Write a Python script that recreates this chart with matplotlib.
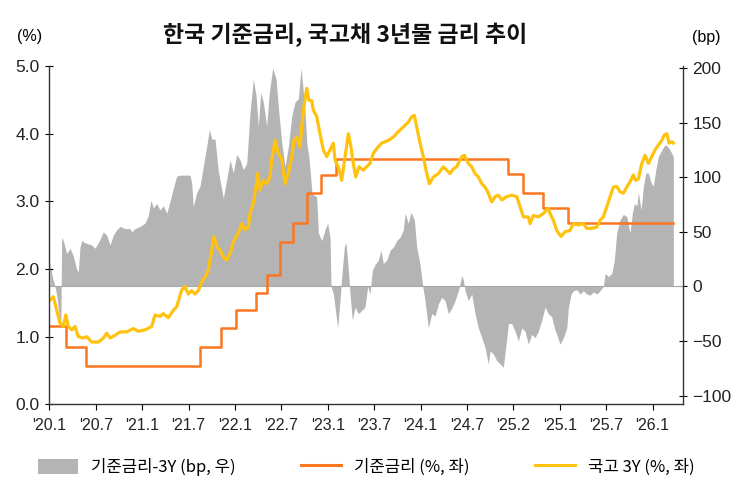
import matplotlib
matplotlib.use("Agg")
import matplotlib.pyplot as plt
from matplotlib.patches import Patch
from matplotlib.lines import Line2D

KR = ["Noto Sans CJK KR", "DejaVu Sans"]
NUM = ["Liberation Sans Narrow", "Liberation Sans", "DejaVu Sans"]
plt.rcParams["font.family"] = KR

# x axis: months since Jan 2020 (one tick every 6 months)
tick_pos = [0, 6, 12, 18, 24, 30, 36, 42, 48, 54, 60, 66, 72, 78]
tick_labels = ["'20.1", "'20.7", "'21.1", "'21.7", "'22.1", "'22.7", "'23.1",
               "'23.7", "'24.1", "'24.7", "'25.2", "'25.1", "'25.7", "'26.1"]

# base rate (%) - change points
base_m = [0, 2.12, 4.71, 19.49, 22.2, 24.1, 26.73, 28.11, 29.83, 31.55,
          33.29, 35.1, 37.04, 59.36, 61.22, 63.88, 67.12, 80.7]
base_v = [1.15, 0.85, 0.57, 0.85, 1.13, 1.40, 1.65, 1.91, 2.40, 2.68,
          3.13, 3.39, 3.63, 3.40, 3.13, 2.90, 2.68, 2.68]

# KTB 3Y yield (%)
y3_m = [0.09, 0.52, 0.96, 1.38, 1.81, 2.12, 2.46, 2.90, 3.32, 3.75, 4.40, 4.84,
        5.48, 6.34, 6.98, 7.42, 7.85, 8.50, 9.14, 10.0, 10.86, 11.51, 12.38,
        13.24, 13.67, 14.32, 14.74, 15.39, 16.04, 16.47, 17.12, 17.55, 17.97,
        18.41, 18.84, 19.27, 19.71, 20.13, 20.56, 21.0, 21.3, 21.65, 22.07,
        22.5, 22.94, 23.37, 23.79, 24.44, 24.88, 25.31, 25.73, 25.95, 26.38,
        26.73, 26.9, 27.25, 27.6, 28.11, 28.54, 28.76, 29.19, 29.61, 30.05,
        30.48, 30.91, 31.35, 31.64, 31.99, 32.42, 32.64, 32.98, 33.29, 33.58,
        33.93, 34.14, 34.58, 35.0, 35.43, 35.87, 36.3, 36.73, 36.95, 37.37,
        37.81, 38.24, 38.67, 39.01, 39.31, 39.62, 40.05, 40.6, 41.04, 41.47,
        41.9, 42.34, 42.98, 43.41, 43.84, 44.48, 45.13, 45.78, 46.42, 46.86,
        47.2, 47.51, 47.94, 48.36, 48.71, 49.14, 49.66, 50.3, 50.95, 51.39,
        51.82, 52.24, 52.68, 53.33, 53.67, 54.18, 54.62, 55.05, 55.48, 55.92,
        56.34, 56.77, 57.21, 57.64, 58.06, 58.5, 59.15, 59.8, 60.44, 60.87,
        61.3, 61.94, 62.16, 62.59, 63.24, 63.88, 64.53, 64.75, 65.18, 65.61,
        66.17, 66.69, 67.33, 67.76, 68.41, 69.05, 69.5, 70.14, 70.79, 71.21,
        71.64, 72.08, 72.51, 72.93, 73.37, 73.8, 74.23, 74.67, 75.09, 75.52,
        75.83, 76.17, 76.61, 77.03, 77.46, 77.9, 78.33, 78.75, 79.19, 79.53,
        79.84, 80.14, 80.49, 80.69]
y3_v = [1.54, 1.59, 1.39, 1.20, 1.15, 1.32, 1.15, 1.10, 1.15, 1.00, 0.98, 1.00,
        0.92, 0.92, 0.975, 1.05, 0.98, 1.02, 1.07, 1.07, 1.12, 1.08, 1.10,
        1.15, 1.32, 1.30, 1.34, 1.28, 1.39, 1.44, 1.69, 1.74, 1.63,
        1.68, 1.63, 1.68, 1.81, 1.88, 1.98, 2.28, 2.48, 2.33, 2.28,
        2.18, 2.13, 2.23, 2.40, 2.53, 2.67, 2.58, 2.62, 2.82, 2.97,
        3.21, 3.41, 3.17, 3.31, 3.26, 3.36, 3.61, 3.90, 3.71, 3.63,
        3.26, 3.41, 3.66, 3.90, 3.95, 3.80, 4.10, 4.45, 4.67, 4.49,
        4.49, 4.35, 4.25, 4.00, 3.76, 3.66, 3.76, 3.86, 3.61, 3.51,
        3.31, 3.66, 4.00, 3.80, 3.56, 3.36, 3.51, 3.46, 3.51, 3.56,
        3.71, 3.78, 3.86, 3.88, 3.90, 3.95, 4.03, 4.10, 4.17, 4.25,
        4.27, 4.10, 3.86, 3.66, 3.46, 3.26, 3.36, 3.41, 3.51, 3.46,
        3.41, 3.48, 3.51, 3.66, 3.68, 3.56, 3.51, 3.41, 3.36, 3.26,
        3.21, 3.12, 2.99, 3.07, 3.09, 3.02, 3.07, 3.09, 3.07, 2.92,
        2.77, 2.77, 2.67, 2.79, 2.77, 2.82, 2.90, 2.82, 2.72, 2.57,
        2.48, 2.55, 2.57, 2.67, 2.65, 2.67, 2.60, 2.60, 2.62, 2.72,
        2.77, 2.92, 3.07, 3.21, 3.22, 3.14, 3.12, 3.21, 3.29, 3.39,
        3.31, 3.33, 3.56, 3.68, 3.56, 3.66, 3.76, 3.83, 3.90, 3.98,
        4.00, 3.86, 3.88, 3.86]

# spread (bp, right axis)
sp_m = [0.09, 0.39, 0.74, 1.0, 1.38, 1.5, 1.6, 1.81, 2.25, 2.68, 3.1, 3.54, 3.75,
        3.97, 4.19, 4.62, 5.04, 5.48, 5.91, 6.34, 6.98, 7.42, 7.85, 8.28, 8.72,
        9.14, 9.79, 10.44, 10.66, 11.08, 11.73, 12.38, 12.8, 13.15, 13.45,
        13.89, 14.32, 14.74, 15.18, 15.61, 16.04, 16.47, 16.9, 17.55, 18.2,
        18.41, 18.62, 19.06, 19.49, 19.91, 20.35, 20.69, 21.0, 21.43, 21.85,
        22.29, 22.5, 22.94, 23.37, 23.79, 24.23, 24.66, 25.09, 25.53, 25.95,
        26.38, 26.73, 27.03, 27.34, 27.67, 28.11, 28.45, 28.89, 29.32, 29.61,
        30.05, 30.48, 30.91, 31.35, 31.77, 32.2, 32.55, 32.85, 33.07, 33.32,
        33.58, 33.97, 34.58, 34.79, 35.23, 35.65, 36.0, 36.3, 36.43, 36.73,
        36.95, 37.29, 37.59, 37.81, 38.15, 38.37, 38.67, 38.89, 39.18, 39.53,
        39.96, 40.4, 40.82, 41.17, 41.47, 41.77, 42.12, 42.54, 42.89, 43.19,
        43.63, 44.06, 44.48, 44.92, 45.35, 45.78, 46.0, 46.42, 46.77, 47.2,
        47.51, 47.94, 48.29, 48.58, 49.01, 49.45, 49.88, 50.3, 50.74, 51.17,
        51.6, 52.04, 52.46, 52.89, 53.33, 53.54, 53.76, 54.18, 54.62, 55.05,
        55.48, 55.92, 56.34, 56.77, 56.99, 57.42, 57.86, 58.28, 58.71, 59.06,
        59.36, 59.8, 60.22, 60.65, 61.09, 61.52, 61.94, 62.38, 62.81, 63.24,
        63.67, 64.1, 64.53, 64.97, 65.31, 65.61, 66.04, 66.47, 66.91, 67.12,
        67.47, 67.76, 68.2, 68.63, 69.05, 69.5, 69.92, 70.35, 70.79, 71.21,
        71.64, 71.86, 72.29, 72.73, 73.06, 73.37, 73.8, 74.23, 74.67, 75.09,
        75.39, 75.65, 75.96, 76.17, 76.52, 76.82, 77.13, 77.46, 77.81, 78.11,
        78.42, 78.75, 79.19, 79.62, 79.97, 80.27, 80.69]
sp_v = [22, 9, 0, -10, -34, -30, 45, 42, 30, 35, 28, 16, 13,
        36, 42, 40, 39, 38, 35, 40, 50, 47, 38, 47, 52,
        55, 53, 53, 50, 53, 55, 58, 65, 79, 72,
        76, 70, 74, 67, 78, 90, 101, 102, 102, 102,
        95, 73, 86, 92, 110, 128, 144, 135, 135, 106,
        89, 81, 98, 116, 104, 121, 116, 107, 113, 159,
        190, 175, 147, 178, 169, 147, 178, 200, 190, 165,
        132, 110, 128, 156, 169, 172, 200, 178, 160, 130,
        118, 85, 82, 49, 42, 52, 58, 45, 0, -7,
        -19, -38, -13, 9, 36, 40, 15, -7, -31, -19,
        -25, -22, -19, 0, -7, 15, 20, 24, 33, 21,
        24, 33, 36, 42, 45, 52, 67, 58, 68, 61,
        36, 20, 0, -13, -38, -25, -27, -16, -10, -13,
        -25, -20, -13, -4, 10, 6, -4, -13, -7, -25,
        -38, -47, -56, -71, -59, -62, -68, -71, -74, -53,
        -34, -34, -41, -50, -38, -41, -53, -44, -47, -41,
        -31, -19, -25, -28, -38, -44, -53, -47, -38, -19,
        -7, -4, -3, -7, -4, -7, -8, -5, -7, -4,
        0, 12, 9, 12, 24, 49, 61, 66, 64, 49,
        67, 76, 74, 86, 70, 92, 104, 104, 95, 92,
        107, 119, 125, 130, 128, 125, 119]

ORANGE = "#FA7620"
YELLOW = "#FFC20E"
GRAY = "#B4B4B4"

fig = plt.figure(figsize=(7.48, 5.0), dpi=100)
ax = fig.add_axes([0.0659, 0.1914, 0.8468, 0.6766])
ax2 = ax.twinx()
ax.set_zorder(2)
ax.patch.set_visible(False)
ax2.set_zorder(1)

ax2.fill_between(sp_m, 0, sp_v, color=GRAY, linewidth=0)
ax2.axhline(0, color="#a8a8a8", lw=0.8)
ax2.set_ylim(-108, 202)
ax2.set_yticks([-100, -50, 0, 50, 100, 150, 200])

ax.step(base_m, base_v, where="post", color=ORANGE, lw=1.8)
ax.plot(y3_m, y3_v, color=YELLOW, lw=2.3)

ax.set_xlim(0, 81.9)
ax.set_ylim(0, 5.0)
ax.set_yticks([0, 1, 2, 3, 4, 5])
ax.set_yticklabels(["%.1f" % v for v in [0, 1, 2, 3, 4, 5]])
ax.set_xticks(tick_pos)
ax.set_xticklabels(tick_labels)

for a in (ax, ax2):
    a.spines["top"].set_visible(False)
    for s in ("left", "right", "bottom"):
        a.spines[s].set_color("#333333")
        a.spines[s].set_linewidth(1.0)
ax.spines["right"].set_visible(False)
ax2.spines["left"].set_visible(False)
ax2.spines["bottom"].set_visible(False)

ax.tick_params(axis="y", direction="inout", length=6, width=0.8, pad=4, labelsize=12.5)
ax.tick_params(axis="x", direction="out", length=4, width=0.8, pad=6, labelsize=11.5)
ax2.tick_params(axis="y", direction="inout", length=6, width=0.8, pad=4, labelsize=12.5)
for lab in ax.get_xticklabels() + ax.get_yticklabels() + ax2.get_yticklabels():
    lab.set_family(NUM)
    lab.set_color("#222222")

fig.text(0.461, 0.93, "한국 기준금리, 국고채 3년물 금리 추이", ha="center", va="center",
         fontsize=16.5, fontweight="bold", color="#111111")
fig.text(0.040, 0.928, "(%)", ha="center", va="center", fontsize=11.5, family=NUM)
fig.text(0.944, 0.925, "(bp)", ha="center", va="center", fontsize=11.5, family=NUM)

handles = [Patch(facecolor=GRAY, edgecolor="none"),
           Line2D([0], [0], color=ORANGE, lw=2.2),
           Line2D([0], [0], color=YELLOW, lw=2.2)]
labels = ["기준금리-3Y (bp, 우)", "기준금리 (%, 좌)", "국고 3Y (%, 좌)"]
fig.legend(handles, labels, loc="center", bbox_to_anchor=(0.49, 0.066), ncol=3,
           frameon=False, fontsize=12, handlelength=2.4, handleheight=1.0,
           handletextpad=0.8, columnspacing=3.9)

fig.savefig("out.png", dpi=100)
